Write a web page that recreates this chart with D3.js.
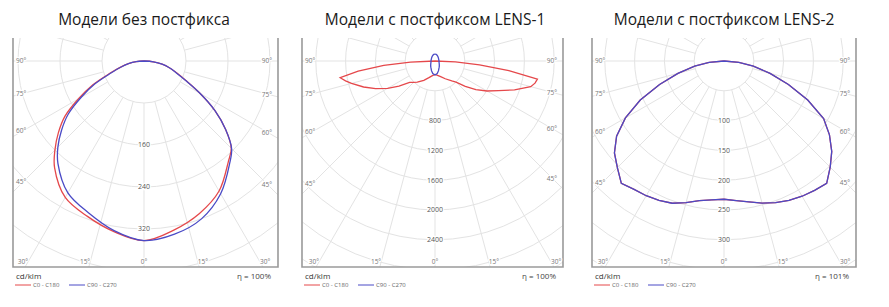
<!DOCTYPE html>
<html>
<head>
<meta charset="utf-8">
<script src="https://cdn.jsdelivr.net/npm/d3@7"></script>
<style>
  body { margin: 0; background: #fff; }
  svg { display: block; font-family: "Open Sans", sans-serif; }
</style>
</head>
<body>
<svg id="chart" width="889" height="307"></svg>
<script>
// titles / labels
const titles = ['Модели без постфикса', 'Модели с постфиксом LENS-1', 'Модели с постфиксом LENS-2'];
const efficiency = ['η = 100%', 'η = 100%', 'η = 101%'];
const unitLabel = 'cd/klm';
const legendNames = ['C0 - C180', 'C90 - C270'];
const angleTicks = [0, 15, 30, 45, 60, 75, 90];

// ring values (cd/klm)
const rings1 = [80, 160, 240, 320, 400, 480];
const rings2 = [400, 800, 1200, 1600, 2000, 2400, 2800, 3200, 3600];
const rings3 = [50, 100, 150, 200, 250, 300, 350, 400, 450];

// panel 1 - no postfix
const gamma1 = [0, 10, 20, 30, 40, 45, 50, 55, 60, 65, 70, 75, 80, 85, 90];
const p1C0 = [342, 327, 309, 286, 250, 235, 203, 165, 123, 88, 66, 50, 35, 18, 0];
const p1C180 = [342, 330, 315, 300, 265, 240, 213, 184, 144, 108, 70, 47, 30, 15, 0];
const p1C90 = [342, 335, 320, 292, 254, 236, 203, 165, 123, 87, 65, 50, 35, 18, 0];
const p1C270 = [342, 328, 308, 290, 255, 232, 205, 176, 138, 103, 67, 46, 30, 15, 0];

// panel 2 - LENS-1
const gamma2 = [0, 10, 20, 30, 40, 45, 50, 55, 60, 65, 70, 75, 77.5, 80, 82.5, 85, 87.5, 90];
const p2C0 = [181, 195, 222, 275, 350, 400, 530, 670, 805, 941, 1136, 1330, 1375, 1396, 1000, 600, 275, 0];
const p2C180 = [181, 200, 238, 300, 370, 405, 445, 590, 735, 880, 1020, 1160, 1230, 1292, 1040, 690, 330, 0];
const gamma2b = [0, 10, 20, 30, 40, 50, 60, 70, 80, 90, 100, 110, 120, 130, 140, 150, 160, 170, 180];
const p2C90 = [188, 171, 138, 108, 90, 75, 65, 58, 55, 54, 53, 54, 56, 60, 66, 74, 82, 90, 94];
const p2C270 = [188, 171, 138, 108, 90, 75, 65, 58, 55, 54, 53, 54, 56, 60, 66, 74, 82, 90, 94];

// panel 3 - LENS-2 (C0-C180 lies under C90-C270)
const gamma3 = [0, 5, 10, 15, 20, 25, 30, 35, 40, 45, 50, 55, 60, 65, 70, 75, 80, 85, 90];
const p3C90 = [231, 235, 240, 247, 253, 258, 262, 265, 268, 252, 236, 216, 193, 155, 115, 80, 50, 25, 0];
const p3C270 = [232, 234, 238, 246, 254, 258, 261, 263, 268, 253, 240, 220, 191, 155, 115, 80, 50, 25, 0];
const p3C0 = p3C90;
const p3C180 = p3C270;

const RED = '#e5484b';
const BLUE = '#4a4ac6';

const panels = [
  { left: 13, right: 278, cx: 144, rings: rings1, ringPx: 42, smooth: true,
    series: [
      { color: RED, gl: gamma1, vl: p1C180, gr: gamma1, vr: p1C0 },
      { color: BLUE, gl: gamma1, vl: p1C270, gr: gamma1, vr: p1C90 }
    ] },
  { left: 302, right: 563, cx: 435, rings: rings2, ringPx: 29.8, smooth: false,
    series: [
      { color: RED, gl: gamma2, vl: p2C180, gr: gamma2, vr: p2C0 },
      { color: BLUE, gl: gamma2b, vl: p2C270, gr: gamma2b, vr: p2C90 }
    ] },
  { left: 592, right: 856, cx: 724, rings: rings3, ringPx: 29.8, smooth: false,
    series: [
      { color: RED, gl: gamma3, vl: p3C180, gr: gamma3, vr: p3C0 },
      { color: BLUE, gl: gamma3, vl: p3C270, gr: gamma3, vr: p3C90 }
    ] }
];

const frameTop = 38, frameBottom = 267, cy = 61;
const svg = d3.select('#chart');
const rad = (d) => d * Math.PI / 180;

panels.forEach((p, i) => {
  const g = svg.append('g');
  const r = d3.scaleLinear().domain([0, p.rings[0]]).range([0, p.ringPx]);

  // title
  g.append('text')
    .attr('x', p.cx)
    .attr('y', 25)
    .attr('text-anchor', 'middle')
    .attr('font-size', 15.5)
    .attr('fill', '#1a1a1a')
    .text(titles[i]);

  // clip for the grid
  svg.append('clipPath')
    .attr('id', 'clip' + i)
    .append('rect')
    .attr('x', p.left)
    .attr('y', frameTop)
    .attr('width', p.right - p.left)
    .attr('height', frameBottom - frameTop);

  const grid = g.append('g').attr('clip-path', `url(#clip${i})`);

  grid.selectAll('circle')
    .data(p.rings)
    .enter()
    .append('circle')
    .attr('cx', p.cx)
    .attr('cy', cy)
    .attr('r', (d) => r(d))
    .attr('fill', 'none')
    .attr('stroke', '#e3e3e3')
    .attr('stroke-width', 1);

  const r0 = r(p.rings[0]);
  grid.selectAll('line')
    .data(d3.range(0, 360, 15))
    .enter()
    .append('line')
    .attr('x1', (a) => p.cx + r0 * Math.sin(rad(a)))
    .attr('y1', (a) => cy + r0 * Math.cos(rad(a)))
    .attr('x2', (a) => p.cx + 400 * Math.sin(rad(a)))
    .attr('y2', (a) => cy + 400 * Math.cos(rad(a)))
    .attr('stroke', '#e3e3e3')
    .attr('stroke-width', 1);

  // frame (left, bottom, right)
  g.append('path')
    .attr('d', `M${p.left},${frameTop}V${frameBottom}H${p.right}V${frameTop}`)
    .attr('fill', 'none')
    .attr('stroke', '#9a9a9a')
    .attr('stroke-width', 1.6);

  // angle labels
  const angLabels = [];
  angleTicks.forEach((a) => {
    if (a >= 45) {
      angLabels.push({ x: p.left + 3, y: cy + (p.cx - p.left - 10) / Math.tan(rad(a)), anchor: 'start', a });
      angLabels.push({ x: p.right - 6, y: cy + (p.right - p.cx - 10) / Math.tan(rad(a)), anchor: 'end', a });
    } else if (a === 0) {
      angLabels.push({ x: p.cx, y: frameBottom - 5, anchor: 'middle', a });
    } else {
      const dx = (frameBottom - 5 - cy) * Math.tan(rad(a));
      angLabels.push({ x: p.cx - dx, y: frameBottom - 5, anchor: 'end', a });
      angLabels.push({ x: p.cx + dx, y: frameBottom - 5, anchor: 'start', a });
    }
  });
  g.selectAll('.ang')
    .data(angLabels)
    .enter()
    .append('text')
    .attr('class', 'ang')
    .attr('x', (d) => d.x)
    .attr('y', (d) => d.y)
    .attr('dy', '0.35em')
    .attr('text-anchor', (d) => d.anchor)
    .attr('font-size', 6.5)
    .attr('fill', '#777')
    .attr('stroke', '#fff')
    .attr('stroke-width', 2.5)
    .attr('paint-order', 'stroke')
    .text((d) => d.a + '°');

  // ring value labels
  g.selectAll('.ring')
    .data(p.rings.slice(1).filter((d) => cy + r(d) < frameBottom - 12))
    .enter()
    .append('text')
    .attr('class', 'ring')
    .attr('x', p.cx)
    .attr('y', (d) => cy + r(d))
    .attr('dy', '0.35em')
    .attr('text-anchor', 'middle')
    .attr('font-size', 7)
    .attr('fill', '#555')
    .attr('stroke', '#fff')
    .attr('stroke-width', 2.5)
    .attr('paint-order', 'stroke')
    .text((d) => d);

  // intensity curves
  const line = d3.lineRadial()
    .angle((d) => d.a)
    .radius((d) => r(d.v))
    .curve(p.smooth ? d3.curveCatmullRom.alpha(0.5) : d3.curveLinear);

  p.series.forEach((s) => {
    const leftPts = s.gl.map((gm, k) => ({ a: Math.PI + rad(gm), v: s.vl[k] })).reverse();
    const rightPts = s.gr.map((gm, k) => ({ a: Math.PI - rad(gm), v: s.vr[k] }));
    g.append('path')
      .attr('transform', `translate(${p.cx},${cy})`)
      .attr('d', line(leftPts.concat(rightPts.slice(1))))
      .attr('fill', 'none')
      .attr('stroke', s.color)
      .attr('stroke-width', 1.3);
  });

  // footer
  g.append('text')
    .attr('x', p.left + 3)
    .attr('y', 279)
    .attr('font-size', 8)
    .attr('fill', '#333')
    .text(unitLabel);

  g.append('text')
    .attr('x', p.right - 7)
    .attr('y', 279)
    .attr('text-anchor', 'end')
    .attr('font-size', 8)
    .attr('fill', '#444')
    .text(efficiency[i]);

  [RED, BLUE].forEach((c, k) => {
    const x0 = p.left + 2 + k * 54;
    g.append('line')
      .attr('x1', x0)
      .attr('x2', x0 + 16)
      .attr('y1', 285)
      .attr('y2', 285)
      .attr('stroke', c)
      .attr('stroke-width', 1);
    g.append('text')
      .attr('x', x0 + 18)
      .attr('y', 285)
      .attr('dy', '0.35em')
      .attr('font-size', 6)
      .attr('fill', '#666')
      .text(legendNames[k]);
  });
});
</script>
</body>
</html>
